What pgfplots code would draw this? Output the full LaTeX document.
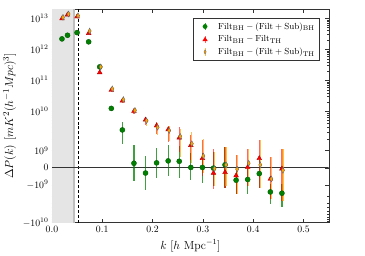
\documentclass[border=0pt]{standalone}
\usepackage{pgfplots}
\pgfplotsset{compat=1.18}
\usepackage{pgfplotstable}
\definecolor{mgreen}{HTML}{008000}
\definecolor{mred}{HTML}{FF0000}
\definecolor{morange}{HTML}{FFA500}

% y values are positions on the symlog axis (units: 0 = zero line)
\pgfplotstableread{
k y ep em
0.020 131.6 0 0
0.031 135.3 0 0
0.050 138.0 0 0
0.073 128.6 0 0
0.095 103.0 0 0
0.118 60.6 2 3
0.140 38.6 7.7 14
0.163 4.6 18.7 18.3
0.186 -5.4 17.4 17.3
0.208 5.0 15.6 15.4
0.231 7.0 16 15.7
0.253 6.6 15.4 17
0.276 0.3 14.3 12.3
0.299 0.3 14.3 15.7
0.321 -0.4 16.7 18.3
0.344 3.0 18.3 23.4
0.366 -12.7 9 14.3
0.389 -12.0 10.3 14.7
0.412 -6.0 14 14.4
0.434 -24.7 7.7 12.3
0.457 -26.0 9 14.4
}\greendata

\pgfplotstableread{
k y ep em
0.020 152.3 0 0
0.031 156.3 0 0
0.050 154.3 0 0
0.073 137.3 0 0
0.095 97.3 0 0
0.118 79.3 1 1.5
0.140 68.3 1.5 2
0.163 57.8 2 3
0.186 49.0 2.3 5.7
0.208 43.0 3.3 8.4
0.231 39.0 4 12.7
0.253 30.6 10.7 14.3
0.276 23.0 10.3 14.7
0.299 9.6 19 18.3
0.321 -5.4 25 16.6
0.344 -4.7 26 16
0.366 -8.0 21 19
0.389 0.6 19 19.3
0.412 9.6 18.4 30
0.434 -11.4 22.7 20.3
0.457 -1.0 20.6 32.7
}\reddata

\pgfplotstableread{
k y ep em
0.022 153.6 0 0
0.033 157.0 0 0
0.052 155.3 0 0
0.075 139.6 0 0
0.097 103.0 0 0
0.120 80.6 1 1.5
0.142 69.6 1.5 2
0.165 58.6 2 3
0.188 48.0 3 5
0.210 41.3 4 8
0.233 38.0 5 11
0.255 32.0 7.6 20.7
0.278 24.6 12.4 19.6
0.301 12.0 17.6 17.4
0.323 -1.0 17 18
0.346 3.0 18 22
0.368 -1.4 14.4 25.6
0.391 4.6 15 23.3
0.414 3.0 25 23.4
0.436 -11.4 22.4 20.6
0.459 -2.7 22.3 31
}\orangedata

\begin{document}
\begin{tikzpicture}
\begin{axis}[
  scale only axis, width=282.3bp, height=217.7bp,
  xmin=0, xmax=0.55, ymin=-56, ymax=162,
  xtick={0,0.1,0.2,0.3,0.4,0.5},
  xticklabels={0.0,0.1,0.2,0.3,0.4,0.5},
  ytick={-56,-17.5,0,17.5,57.5,89.2,120.9,152.6},
  yticklabels={$-10^{10}$,$-10^{9}$,$0$,$10^{9}$,$10^{10}$,$10^{11}$,$10^{12}$,$10^{13}$},
  minor ytick={-29.09,-35.87,-40.68,-44.41,-47.45,-50.03,-52.27,-54.23,
    29.54,36.58,41.58,45.46,48.62,51.3,53.62,55.66,
    67.04,72.62,76.58,79.66,82.16,84.29,86.13,87.74,
    98.74,104.32,108.28,111.36,113.86,115.99,117.83,119.44,
    130.44,136.02,139.98,143.06,145.56,147.69,149.53,151.14},
  tick align=inside,
  major tick length=4bp, minor tick length=2bp,
  every tick/.style={black!80},
  axis line style={black!80},
  tick label style={font=\fontsize{10}{12}\selectfont},
  xlabel={$k\ [h\ \mathrm{Mpc}^{-1}]$},
  ylabel={$\Delta P(k)\ [mK^2(h^{-1}Mpc)^3]$},
  xlabel style={font=\fontsize{11.5}{13}\selectfont},
  ylabel style={font=\fontsize{13}{15}\selectfont},
  legend style={at={(0.966,0.959)}, anchor=north east, font=\fontsize{9.5}{11}\selectfont,
    draw=black!80, inner sep=2.5pt, row sep=1pt},
  legend cell align=left,
  error bars/y dir=both, error bars/y explicit,
]
\addplot[fill=black!10, draw=none, forget plot] coordinates {(0,-56) (0.044,-56) (0.044,162) (0,162)} -- cycle;
\addplot[black!25, line width=1.5bp, forget plot] coordinates {(0.044,-56) (0.044,162)};
\addplot[black, dash pattern=on 3bp off 2bp, line width=1bp, forget plot] coordinates {(0.053,-56) (0.053,162)};
\addplot[black!80, line width=0.6bp, forget plot] coordinates {(0,0) (0.55,0)};

\addplot[only marks, mark=*, mark size=2.6bp, mgreen, mark options={draw=mgreen!70!black, fill=mgreen},
  error bars/error bar style={mgreen, line width=1.2bp, opacity=0.75},
  error bars/error mark=none,
  legend image code/.code={\path[draw=none,fill=none] (0cm,0cm) -- (0.75cm,0cm);
    \draw[mgreen, line width=1bp, opacity=0.75] (0.35cm,-0.13cm) -- (0.35cm,0.13cm);
    \fill[mgreen] (0.35cm,0cm) circle (2.2bp);}]
  table[x=k, y=y, y error plus=ep, y error minus=em] {\greendata};
\addlegendentry{$\mathrm{Filt_{BH}-(Filt+Sub)_{BH}}$}

\addplot[only marks, mark=triangle*, mark size=2.8bp, mred, mark options={draw=mred!70!black, fill=mred},
  error bars/error bar style={mred, line width=1.2bp, opacity=0.6},
  error bars/error mark=none,
  legend image code/.code={\path[draw=none,fill=none] (0cm,0cm) -- (0.75cm,0cm);
    \draw[mred, line width=1bp, opacity=0.6] (0.35cm,-0.13cm) -- (0.35cm,0.13cm);
    \fill[mred] (0.35cm,0.07cm) -- (0.27cm,-0.06cm) -- (0.43cm,-0.06cm) -- cycle;}]
  table[x=k, y=y, y error plus=ep, y error minus=em] {\reddata};
\addlegendentry{$\mathrm{Filt_{BH}-Filt_{TH}}$}

\addplot[only marks, mark=diamond*, mark size=3bp, morange, mark options={draw=black!60, fill=morange, xscale=0.7, line width=0.4bp},
  error bars/error bar style={morange, line width=1.2bp, opacity=0.7},
  error bars/error mark=none,
  legend image code/.code={\path[draw=none,fill=none] (0cm,0cm) -- (0.75cm,0cm);
    \draw[morange, line width=1bp, opacity=0.7] (0.35cm,-0.13cm) -- (0.35cm,0.13cm);
    \filldraw[fill=morange, draw=black!60, line width=0.3bp] (0.35cm,0.08cm) -- (0.31cm,0cm) -- (0.35cm,-0.08cm) -- (0.39cm,0cm) -- cycle;}]
  table[x=k, y=y, y error plus=ep, y error minus=em] {\orangedata};
\addlegendentry{$\mathrm{Filt_{BH}-(Filt+Sub)_{TH}}$}
\end{axis}
\path ([xshift=-45.7bp,yshift=-29bp]current axis.south west) rectangle ([xshift=37bp,yshift=9.3bp]current axis.north east);
\end{tikzpicture}
\end{document}
